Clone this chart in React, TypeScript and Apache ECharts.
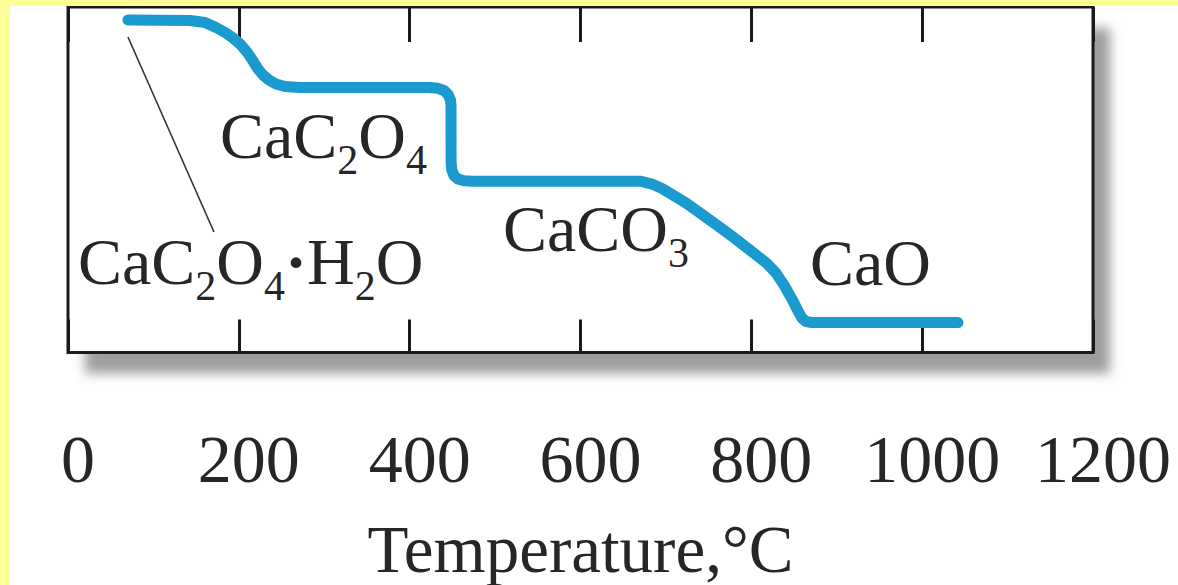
import React, { useEffect, useRef } from "react";
import * as echarts from "echarts";

// ---- data (thermogravimetric curve of CaC2O4·H2O) ----
const xTicks = [0, 200, 400, 600, 800, 1000, 1200];
const temperatureC = [
  70.2, 107.7, 142.8, 160.4, 174.4, 185.0, 193.2, 201.4, 209.6, 216.6, 222.4,
  228.3, 235.3, 243.5, 254.0, 271.6,
  423.8, 433.2, 440.2, 444.9, 447.8, 448.4, 448.5, 449.3, 451.8, 456.6, 463.6,
  473.0,
  669.6, 683.7, 695.4, 707.1, 723.5, 740.0, 758.7, 778.6, 798.4, 818.3, 828.8,
  838.2, 848.8, 854.6, 859.3, 864.0, 871.0, 1041.9,
];
const relativeMass = [
  100.33, 100.27, 100.23, 99.81, 98.68, 97.66, 96.63, 95.4, 93.75, 91.9, 90.26,
  89.03, 88.0, 87.18, 86.66, 86.46,
  86.46, 86.29, 85.84, 85.02, 83.89, 82.65, 71.15, 69.5, 68.37, 67.65, 67.28,
  67.2,
  67.2, 66.62, 65.7, 64.47, 62.72, 60.67, 58.3, 55.73, 53.06, 50.29, 48.34,
  45.87, 42.59, 40.53, 39.09, 38.37, 38.16, 38.16,
];
const massRange = [32, 103];
const leaderFrom = [70.2, 96.83];
const leaderTo = [170.9, 56.76];
const phaseLabels = [
  "CaC{s|2}O{s|4}{d|·}H{s|2}O",
  "CaC{s|2}O{s|4}",
  "CaCO{s|3}",
  "CaO",
];
const axisTitle = "Temperature,°C";

const SERIF = "'Liberation Serif', 'Times New Roman', serif";
const TEXT = "#262626";
const INK = "#1a1a1a";

// positions of the phase labels (style, not data)
const labelPlaces = [
  { x: 78, y: 221 },
  { x: 220, y: 95 },
  { x: 503, y: 188 },
  { x: 810, y: 222 },
];

const richStyles = {
  s: { font: `42px ${SERIF}`, padding: [50, 0, 0, 0], lineHeight: 1, fill: TEXT },
  d: { font: `bold 66px ${SERIF}`, fill: TEXT },
};

export default function App() {
  const ref = useRef<HTMLDivElement>(null);

  useEffect(() => {
    const chart = echarts.init(ref.current!, null, { renderer: "svg" });
    const data = temperatureC.map((t, i) => [t, relativeMass[i]]);

    const gridLeft = 68;
    const gridRight = 85;
    const gridTop = 7;
    const gridBottom = 232.5;
    const W = 1178;
    const H = 585;

    const tickCommon = {
      show: true,
      inside: true,
      lineStyle: { color: INK, width: 3 },
    };

    chart.setOption({
      animation: false,
      backgroundColor: "#ffffff",
      grid: {
        left: gridLeft,
        right: gridRight,
        top: gridTop,
        bottom: gridBottom,
        show: true,
        borderColor: INK,
        borderWidth: 3,
        backgroundColor: "transparent",
        containLabel: false,
        outerBoundsMode: "none",
      },
      xAxis: [
        {
          type: "value",
          position: "bottom",
          min: xTicks[0],
          max: xTicks[xTicks.length - 1],
          interval: xTicks[1] - xTicks[0],
          axisLine: { show: false },
          axisTick: { ...tickCommon, length: 33 },
          splitLine: { show: false },
          axisLabel: {
            show: true,
            margin: 72,
            fontSize: 68,
            fontFamily: SERIF,
            color: TEXT,
            padding: [0, 0, 0, 20],
            showMinLabel: true,
            showMaxLabel: true,
            formatter: (v: number) => String(v),
          },
          name: axisTitle,
          nameLocation: "middle",
          nameGap: 163,
          nameTextStyle: { fontSize: 67, fontFamily: SERIF, color: TEXT },
        },
        {
          type: "value",
          position: "top",
          min: xTicks[0],
          max: xTicks[xTicks.length - 1],
          interval: xTicks[1] - xTicks[0],
          axisLine: { show: false },
          axisTick: { ...tickCommon, length: 35 },
          splitLine: { show: false },
          axisLabel: { show: false },
        },
      ],
      yAxis: {
        type: "value",
        min: massRange[0],
        max: massRange[1],
        show: false,
        splitLine: { show: false },
      },
      graphic: [
        {
          type: "rect",
          z: -10,
          silent: true,
          shape: {
            x: gridLeft,
            y: gridTop,
            width: W - gridLeft - gridRight,
            height: H - gridTop - gridBottom,
          },
          style: {
            fill: "#ffffff",
            shadowBlur: 12,
            shadowOffsetX: 17,
            shadowOffsetY: 21,
            shadowColor: "rgba(0,0,0,0.38)",
          },
        },
        {
          type: "rect",
          z: 50,
          silent: true,
          shape: { x: 0, y: 0, width: 10, height: H },
          style: { fill: "#ffff99" },
        },
        {
          type: "rect",
          z: 50,
          silent: true,
          shape: { x: 0, y: 0, width: W, height: 6 },
          style: { fill: "#ffff99" },
        },
        ...phaseLabels.map((txt, i) => ({
          type: "text",
          z: 20,
          silent: true,
          x: labelPlaces[i].x,
          y: labelPlaces[i].y,
          style: {
            text: txt,
            font: `66px ${SERIF}`,
            fill: TEXT,
            lineHeight: 80,
            textAlign: "left",
            textVerticalAlign: "top",
            rich: richStyles,
          },
        })),
      ],
      series: [
        {
          type: "line",
          xAxisIndex: 0,
          data,
          showSymbol: false,
          symbol: "none",
          smooth: false,
          z: 5,
          lineStyle: {
            color: "#1b9ad0",
            width: 11,
            cap: "round",
            join: "round",
          },
          markLine: {
            silent: true,
            symbol: ["none", "none"],
            label: { show: false },
            lineStyle: { color: "#333333", width: 1.6, type: "solid" },
            data: [[{ coord: leaderFrom }, { coord: leaderTo }]],
          },
        },
      ],
    });

    return () => chart.dispose();
  }, []);

  return (
    <div
      ref={ref}
      style={{ position: "absolute", left: 0, top: 0, width: 1178, height: 585 }}
    />
  );
}
